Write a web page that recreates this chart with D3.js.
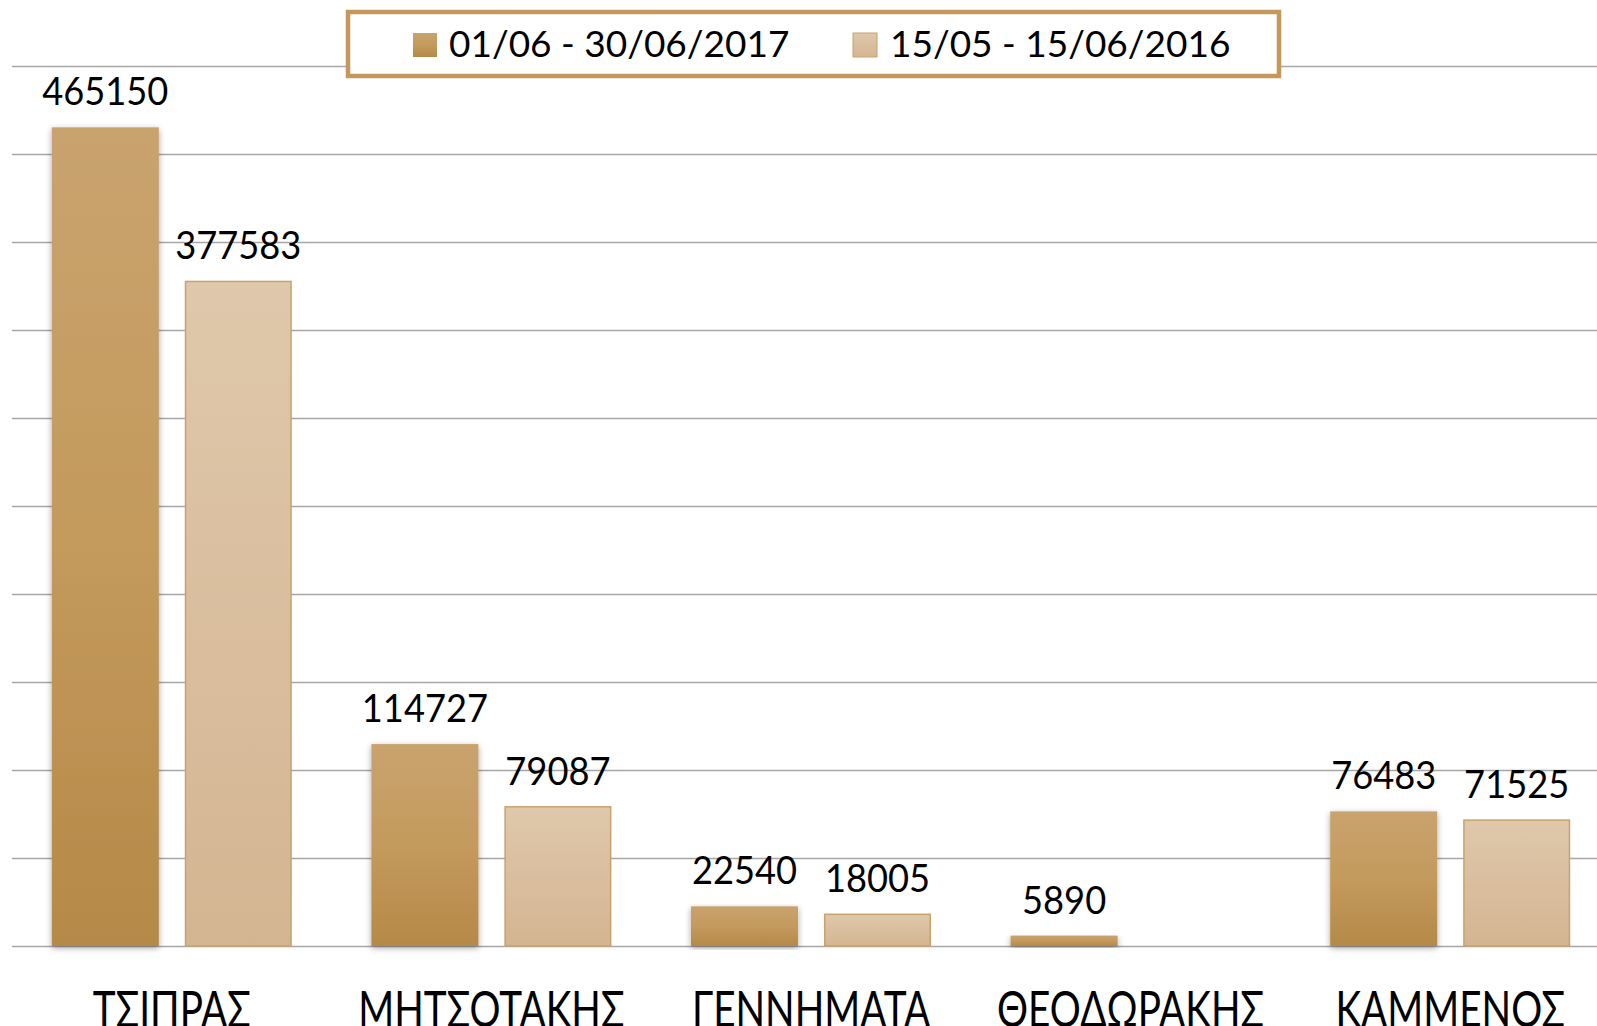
<!DOCTYPE html>
<html>
<head>
<meta charset="utf-8">
<script src="https://cdn.jsdelivr.net/npm/d3@7"></script>
<style>
  html, body { margin: 0; padding: 0; background: #ffffff; overflow: hidden; }
  svg { display: block; }
  text { font-family: Lato, "Open Sans", "Noto Sans", sans-serif; fill: #000; }
</style>
</head>
<body>
<svg id="chart" width="1597" height="1026"></svg>
<script>
const categories = ["ΤΣΙΠΡΑΣ", "ΜΗΤΣΟΤΑΚΗΣ", "ΓΕΝΝΗΜΑΤΑ", "ΘΕΟΔΩΡΑΚΗΣ", "ΚΑΜΜΕΝΟΣ"];
const seriesNames = ["01/06 - 30/06/2017", "15/05 - 15/06/2016"];
const series2017 = [465150, 114727, 22540, 5890, 76483];
const series2016 = [377583, 79087, 18005, null, 71525];
const yTicks = [0, 50000, 100000, 150000, 200000, 250000, 300000, 350000, 400000, 450000, 500000];

const W = 1597, H = 1026;
const svg = d3.select("#chart");
const defs = svg.append("defs");

const g1 = defs.append("linearGradient").attr("id", "grad1").attr("x1", 0).attr("y1", 0).attr("x2", 0).attr("y2", 1);
g1.append("stop").attr("offset", "0%").attr("stop-color", "#c9a36e");
g1.append("stop").attr("offset", "50%").attr("stop-color", "#c49a5d");
g1.append("stop").attr("offset", "100%").attr("stop-color", "#b58947");

const g2 = defs.append("linearGradient").attr("id", "grad2").attr("x1", 0).attr("y1", 0).attr("x2", 0).attr("y2", 1);
g2.append("stop").attr("offset", "0%").attr("stop-color", "#dfc8ab");
g2.append("stop").attr("offset", "100%").attr("stop-color", "#d4b592");

const sh = defs.append("filter").attr("id", "shadow").attr("x", "-20%").attr("y", "-5%").attr("width", "140%").attr("height", "115%");
sh.append("feDropShadow").attr("dx", 0).attr("dy", 2).attr("stdDeviation", 3)
  .attr("flood-color", "#000").attr("flood-opacity", 0.35);

const x0 = d3.scaleBand().domain(categories).range([12, 1610]).paddingInner(0.249).paddingOuter(0.1245);
const x1 = d3.scaleBand().domain([0, 1]).range([0, x0.bandwidth()]).paddingInner(0.195).paddingOuter(0);
const y = d3.scaleLinear().domain([0, 500000]).range([946, 66]);

// gridlines
svg.append("g").selectAll("line").data(yTicks).join("line")
  .attr("x1", 12).attr("x2", W)
  .attr("y1", d => Math.round(y(d)) + 0.5).attr("y2", d => Math.round(y(d)) + 0.5)
  .attr("stroke", "#a6a6a6").attr("stroke-width", 1.5);

const rows = categories.map((c, i) => ({ c, vals: [series2017[i], series2016[i]] }));

const groups = svg.append("g").selectAll("g").data(rows).join("g")
  .attr("transform", d => `translate(${x0(d.c)},0)`);

// series 1 bars
groups.filter(d => d.vals[0] != null).append("rect")
  .attr("x", x1(0)).attr("width", x1.bandwidth())
  .attr("y", d => y(d.vals[0])).attr("height", d => y(0) - y(d.vals[0]))
  .attr("fill", "url(#grad1)").attr("filter", "url(#shadow)");

// series 2 bars
groups.filter(d => d.vals[1] != null).append("rect")
  .attr("x", x1(1) + 0.75).attr("width", x1.bandwidth() - 1.5)
  .attr("y", d => y(d.vals[1])).attr("height", d => y(0) - y(d.vals[1]))
  .attr("fill", "url(#grad2)").attr("stroke", "#c9a26b").attr("stroke-width", 1.5);

// value labels
[0, 1].forEach(s => {
  groups.filter(d => d.vals[s] != null).append("text")
    .attr("transform", d => `translate(${x1(s) + x1.bandwidth() / 2},${y(d.vals[s]) - 22}) scale(0.93,1)`)
    .attr("text-anchor", "middle")
    .style("font-size", "39px")
    .text(d => d.vals[s]);
});

// category labels
svg.append("g").selectAll("text").data(categories).join("text")
  .attr("transform", d => `translate(${x0(d) + x0.bandwidth() / 2},1027) scale(0.775,1)`)
  .attr("text-anchor", "middle")
  .style("font-size", "50px")
  .text(d => d);

// legend
const leg = svg.append("g");
leg.append("rect").attr("x", 348).attr("y", 12).attr("width", 931).attr("height", 64)
  .attr("fill", "#fff").attr("stroke", "#c4985a").attr("stroke-width", 4.5);
const legItems = [
  { name: seriesNames[0], sx: 413, tx: 449, fill: "url(#grad1)", stroke: "none" },
  { name: seriesNames[1], sx: 853, tx: 890, fill: "url(#grad2)", stroke: "#c9a26b" }
];
legItems.forEach(it => {
  leg.append("rect").attr("x", it.sx).attr("y", 33).attr("width", 24).attr("height", 24)
    .attr("fill", it.fill).attr("stroke", it.stroke).attr("stroke-width", 1);
  leg.append("text").attr("x", it.tx).attr("y", 57).style("font-size", "37px").text(it.name);
});
</script>
</body>
</html>
